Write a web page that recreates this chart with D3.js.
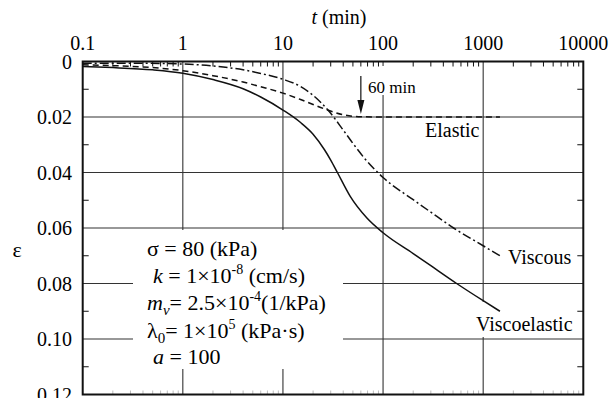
<!DOCTYPE html>
<html lang="en">
<head>
<meta charset="UTF-8">
<title>Strain vs time</title>
<script src="https://d3js.org/d3.v7.min.js"></script>
<style>
  body { margin: 0; background: #fff; }
  text { font-family: "Liberation Serif", "DejaVu Serif", serif; }
</style>
</head>
<body>
<svg width="611" height="398"></svg>
<script>
// axis ticks and labels
const timeTicks = [0.1, 1, 10, 100, 1000, 10000];
const timeLabels = ["0.1", "1", "10", "100", "1000", "10000"];
const strainTicks = [0, 0.02, 0.04, 0.06, 0.08, 0.10, 0.12];
const strainLabels = ["0", "0.02", "0.04", "0.06", "0.08", "0.10", "0.12"];

// curves (t in min, strain)
const viscoelasticT = [0.1, 0.2, 0.5, 1, 2, 4, 6, 10, 15, 20, 26, 30, 35, 47, 69, 100, 200, 300, 543, 1000, 1470];
const viscoelasticE = [0.0018, 0.0022, 0.003, 0.0042, 0.0065, 0.0098, 0.0128, 0.0175, 0.022, 0.0262, 0.0318, 0.0355, 0.040, 0.0486, 0.0564, 0.0617, 0.0692, 0.0736, 0.080, 0.0862, 0.090];

const elasticT = [0.1, 0.2, 0.5, 1, 2, 4, 6, 10, 15, 20, 28, 40, 60, 100, 300, 1000, 1470];
const elasticE = [0.0012, 0.0015, 0.0022, 0.0033, 0.0051, 0.0074, 0.0091, 0.0114, 0.0137, 0.0155, 0.0175, 0.0192, 0.0199, 0.02, 0.02, 0.02, 0.02];

const viscousT = [0.1, 0.3, 1, 2, 4, 6, 10, 15, 20, 28, 40, 50, 65, 100, 200, 300, 506, 1000, 1470];
const viscousE = [0.0006, 0.0006, 0.0009, 0.0016, 0.003, 0.0043, 0.0064, 0.009, 0.0122, 0.0174, 0.0247, 0.0295, 0.0348, 0.0418, 0.0498, 0.0543, 0.060, 0.0664, 0.070];

const serif = '"Liberation Serif", "DejaVu Serif", serif';
const svg = d3.select("svg").style("font-family", serif);
const x = d3.scaleLog().domain([0.1, 10000]).range([82.7, 583.3]);
const y = d3.scaleLinear().domain([0, 0.12]).range([61.5, 394.5]);
const [x0, x1] = x.range();
const [y0, y1] = y.range();

// gridlines
const grid = svg.append("g").attr("stroke", "#333").attr("stroke-width", 1.1);
grid.selectAll(".gx").data(timeTicks.slice(1, -1)).enter().append("line")
  .attr("x1", d => x(d)).attr("x2", d => x(d)).attr("y1", y0).attr("y2", y1);
grid.selectAll(".gy").data(strainTicks.slice(1, -1)).enter().append("line")
  .attr("x1", x0).attr("x2", x1).attr("y1", d => y(d)).attr("y2", d => y(d));

// white patches where text sits over the grid
svg.append("rect").attr("x", 133).attr("y", 230).attr("width", 210).attr("height", 139).attr("fill", "#fff");
svg.append("rect").attr("x", 474).attr("y", 302).attr("width", 102).attr("height", 35).attr("fill", "#fff");
svg.append("rect").attr("x", 366).attr("y", 66).attr("width", 54).attr("height", 29).attr("fill", "#fff");

// minor ticks
const minor = [];
[0.1, 1, 10, 100, 1000].forEach(d => { for (let k = 2; k <= 9; k++) minor.push(k * d); });
svg.append("g").attr("stroke", "#111").attr("stroke-width", 1)
  .selectAll("line").data(minor).enter().append("line")
  .attr("x1", d => x(d)).attr("x2", d => x(d)).attr("y1", y0).attr("y2", y0 + 5);
svg.append("g").attr("stroke", "#bbb").attr("stroke-width", 1)
  .selectAll("line").data(minor).enter().append("line")
  .attr("x1", d => x(d)).attr("x2", d => x(d)).attr("y1", y1).attr("y2", y1 - 4);
const yMinor = [0.01, 0.03, 0.05, 0.07, 0.09, 0.11];
const ym = svg.append("g").attr("stroke", "#111").attr("stroke-width", 1);
ym.selectAll(".l").data(yMinor).enter().append("line")
  .attr("x1", x0).attr("x2", x0 + 6).attr("y1", d => y(d)).attr("y2", d => y(d));
ym.selectAll(".r").data(yMinor).enter().append("line")
  .attr("x1", x1).attr("x2", x1 - 6).attr("y1", d => y(d)).attr("y2", d => y(d));

// curves
const line = d3.line().x(d => x(d[0])).y(d => y(d[1])).curve(d3.curveMonotoneX);
const series = [
  { t: elasticT, e: elasticE, dash: "6,4" },
  { t: viscousT, e: viscousE, dash: "9,3,2,3" },
  { t: viscoelasticT, e: viscoelasticE, dash: null }
];
series.forEach(s => {
  svg.append("path")
    .datum(s.t.map((t, i) => [t, s.e[i]]))
    .attr("d", line)
    .attr("fill", "none")
    .attr("stroke", "#111")
    .attr("stroke-width", 1.5)
    .attr("stroke-dasharray", s.dash);
});

// frame
svg.append("rect").attr("x", x0).attr("y", y0).attr("width", x1 - x0).attr("height", y1 - y0)
  .attr("fill", "none").attr("stroke", "#111").attr("stroke-width", 2);

// tick labels
svg.selectAll(".tx").data(timeTicks).enter().append("text")
  .attr("x", d => x(d)).attr("y", 50).attr("text-anchor", "middle")
  .attr("font-size", 20).text((d, i) => timeLabels[i]);
svg.selectAll(".ty").data(strainTicks).enter().append("text")
  .attr("x", 72).attr("y", d => y(d)).attr("dy", "0.35em").attr("text-anchor", "end")
  .attr("font-size", 20).text((d, i) => strainLabels[i]);

// axis titles
const tt = svg.append("text").attr("x", 339).attr("y", 24).attr("text-anchor", "middle").attr("font-size", 20);
tt.append("tspan").attr("font-style", "italic").text("t");
tt.append("tspan").text(" (min)");
svg.append("text").attr("x", 17).attr("y", 257).attr("text-anchor", "middle").attr("font-size", 22).text("ε");

// curve labels
svg.append("text").attr("x", 425).attr("y", 137).attr("font-size", 20).text("Elastic");
svg.append("text").attr("x", 508).attr("y", 264).attr("font-size", 20).text("Viscous");
svg.append("text").attr("x", 476).attr("y", 331).attr("font-size", 20).text("Viscoelastic");

// 60 min arrow
const xa = x(60);
svg.append("line").attr("x1", xa).attr("x2", xa).attr("y1", 76).attr("y2", 102)
  .attr("stroke", "#111").attr("stroke-width", 1.2);
svg.append("path").attr("d", `M${xa - 3.5},100 L${xa + 3.5},100 L${xa},${y(0.02) - 3} Z`).attr("fill", "#111");
svg.append("text").attr("x", 368).attr("y", 93).attr("font-size", 17).text("60 min");

// parameter block
const fs = 22;
function row(xp, yp) {
  return svg.append("text").attr("x", xp).attr("y", yp).attr("font-size", fs);
}
function sup(t, s) {
  t.append("tspan").attr("dy", -9).attr("font-size", 14).text(s);
}
row(147, 256).text("σ = 80 (kPa)");

const r2 = row(153, 283);
r2.append("tspan").attr("font-style", "italic").text("k");
r2.append("tspan").text(" = 1×10");
sup(r2, "-8");
r2.append("tspan").attr("dy", 9).text(" (cm/s)");

const r3 = row(147, 310);
r3.append("tspan").attr("font-style", "italic").text("m");
r3.append("tspan").attr("font-style", "italic").attr("font-size", 15).attr("dy", 5).text("v");
r3.append("tspan").attr("dy", -5).text("= 2.5×10");
sup(r3, "-4");
r3.append("tspan").attr("dy", 9).text("(1/kPa)");

const r4 = row(147, 337.5);
r4.append("tspan").text("λ");
r4.append("tspan").attr("font-size", 15).attr("dy", 5).text("0");
r4.append("tspan").attr("dy", -5).text("= 1×10");
sup(r4, "5");
r4.append("tspan").attr("dy", 9).text(" (kPa·s)");

const r5 = row(153, 364);
r5.append("tspan").attr("font-style", "italic").text("a");
r5.append("tspan").text(" = 100");
</script>
</body>
</html>
